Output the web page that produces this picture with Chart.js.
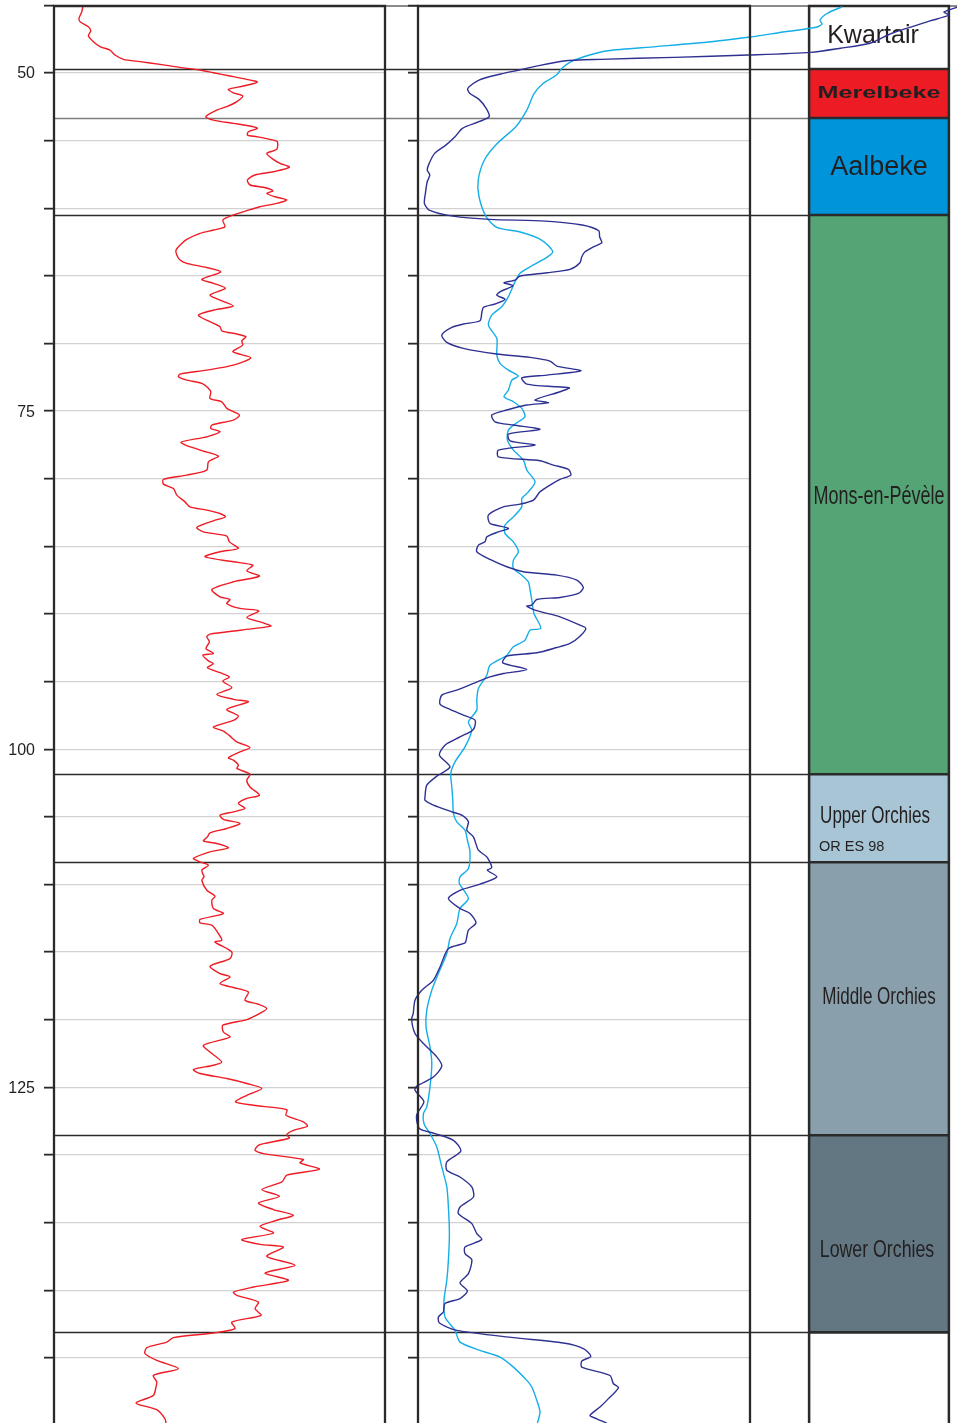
<!DOCTYPE html>
<html><head><meta charset="utf-8">
<script src="https://cdn.jsdelivr.net/npm/chart.js@4.4.1/dist/chart.umd.min.js"></script>
<style>
html,body{margin:0;padding:0;background:#fff;overflow:hidden;width:957px;height:1423px;}
#wrap{position:relative;width:957px;height:1430px;}
#wrap canvas{position:absolute;left:0;top:0;}
</style></head><body>
<div id="wrap">
<canvas id="strat" width="957" height="1430"></canvas>
<canvas id="gr" width="957" height="1430"></canvas>
<canvas id="logs" width="957" height="1430"></canvas>
</div>
<script>
// ---- depth axis ----
const depthMin = 45, depthMax = 150, depthStep = 5;
const depthLabels = [50, 75, 100, 125];

// ---- stratigraphy ----
const formationNames  = ['Kwartair','Merelbeke','Aalbeke','Mons-en-Pévèle','Upper Orchies','Middle Orchies','Lower Orchies',''];
const formationTops   = [45.00, 49.70, 53.33, 60.50, 101.85, 108.36, 128.55, 143.12];
const formationBases  = [49.70, 53.33, 60.50, 101.85, 108.36, 128.55, 143.12, 150.00];
const formationNotes  = ['', '', '', '', 'OR ES 98', '', '', ''];
const formationColors = ['#ffffff','#ed1c24','#0095da','#55a475','#a8c5d6','#89a0ac','#637783','#ffffff'];

// ---- log 1 (red, left track): [depth, value] ----
const logRed = [[45.10,14.4],[45.47,13.9],[45.95,12.5],[46.21,13.0],[46.58,17.2],[46.87,18.4],[47.26,17.2],[47.69,19.7],[48.05,23.0],[48.30,28.0],[48.67,30.5],[48.99,34.7],[49.16,43.0],[49.36,53.0],[49.58,63.0],[49.78,73.0],[49.98,79.7],[50.22,88.0],[50.47,96.4],[50.67,101.7],[50.96,94.7],[51.21,87.2],[51.46,89.7],[51.70,94.4],[52.12,91.4],[52.49,86.4],[52.74,81.4],[53.23,75.9],[53.48,79.7],[53.72,89.7],[53.92,98.0],[54.09,101.7],[54.34,97.2],[54.59,96.7],[54.71,101.4],[54.96,109.7],[55.08,111.7],[55.64,111.4],[55.94,106.4],[56.31,108.9],[56.68,113.0],[56.97,117.7],[57.30,109.7],[57.54,100.5],[57.91,96.7],[58.28,98.0],[58.45,104.7],[58.71,109.4],[58.90,106.4],[59.15,110.5],[59.39,116.4],[59.64,111.4],[59.89,103.0],[60.18,96.4],[60.50,89.7],[60.87,84.4],[61.37,85.5],[61.61,79.7],[61.86,73.0],[62.30,66.4],[62.60,63.9],[63.09,61.0],[63.46,61.4],[63.83,63.0],[64.07,66.4],[64.33,74.7],[64.70,83.4],[65.26,73.9],[65.55,79.7],[65.92,85.7],[66.42,78.0],[66.79,83.0],[67.23,89.7],[67.48,81.4],[67.90,72.2],[68.39,78.0],[68.76,83.0],[69.06,83.9],[69.30,91.4],[69.50,96.0],[69.80,93.9],[70.12,94.4],[70.61,89.4],[71.06,98.4],[71.60,89.7],[71.97,76.4],[72.26,63.0],[72.46,62.2],[72.71,66.4],[72.95,73.9],[73.20,76.4],[73.57,78.4],[74.06,78.0],[74.31,83.9],[74.80,86.4],[75.29,92.7],[75.66,89.7],[76.03,78.9],[76.28,78.4],[76.53,83.0],[76.90,76.4],[77.31,63.5],[77.88,73.0],[78.33,82.2],[78.75,77.2],[79.36,76.4],[79.73,66.4],[80.05,54.7],[80.40,54.7],[80.72,59.7],[81.21,61.4],[81.71,65.5],[82.08,68.0],[82.32,76.4],[82.57,83.0],[82.82,85.7],[83.11,79.7],[83.60,71.4],[83.93,74.7],[84.24,86.4],[84.67,87.7],[85.15,92.2],[85.40,83.0],[85.77,75.5],[86.14,89.7],[86.39,99.4],[86.81,96.4],[87.20,102.7],[87.62,89.7],[88.19,78.9],[88.73,83.0],[88.93,88.0],[89.22,86.4],[89.59,93.0],[89.77,102.4],[90.26,96.4],[90.66,104.7],[90.90,108.4],[91.20,93.0],[91.49,78.0],[91.69,76.4],[92.06,77.7],[92.55,76.0],[92.92,79.7],[93.05,74.4],[93.47,77.2],[93.67,79.7],[93.97,76.7],[94.34,83.0],[94.66,87.7],[94.96,84.4],[95.45,88.9],[95.94,81.4],[96.31,89.7],[96.49,97.2],[97.05,86.4],[97.55,92.2],[97.87,89.7],[98.36,79.7],[98.66,84.7],[99.03,88.0],[99.46,91.4],[99.87,98.0],[100.20,93.0],[100.64,87.2],[100.81,89.7],[101.18,92.2],[101.42,91.4],[101.85,98.0],[102.29,96.4],[102.79,98.0],[103.40,102.7],[103.64,96.4],[104.01,92.2],[104.38,95.5],[104.63,89.7],[104.88,83.0],[105.19,84.7],[105.49,93.0],[105.86,86.4],[106.19,78.0],[106.48,76.7],[106.78,74.7],[106.97,81.4],[107.30,87.2],[107.59,78.0],[108.08,69.7],[108.33,73.0],[108.58,77.2],[108.95,73.9],[109.44,75.0],[109.69,73.9],[110.43,76.4],[110.87,80.5],[111.17,78.9],[111.78,79.7],[112.15,84.7],[112.59,73.0],[112.84,73.0],[113.01,78.9],[113.63,82.2],[114.12,83.9],[114.25,80.5],[114.99,88.9],[115.48,88.0],[116.05,78.0],[116.59,83.0],[116.84,88.0],[117.33,83.0],[117.62,89.7],[117.95,97.2],[118.56,95.5],[118.86,102.2],[119.18,106.4],[119.55,102.7],[119.99,96.4],[120.41,84.4],[120.91,84.7],[121.28,88.0],[121.89,74.7],[122.39,78.0],[123.13,83.9],[123.37,79.7],[123.69,69.7],[123.98,73.0],[124.35,86.4],[124.72,96.4],[125.09,103.9],[125.59,96.4],[126.08,90.7],[126.33,99.7],[126.65,116.4],[127.07,116.0],[127.56,124.7],[127.88,126.7],[128.18,119.7],[128.50,116.4],[128.75,117.7],[129.12,106.4],[129.29,102.2],[129.65,100.5],[129.90,104.7],[130.34,124.7],[130.59,123.0],[131.06,132.7],[131.50,116.4],[132.00,113.9],[132.56,103.9],[133.06,112.7],[133.55,102.2],[134.04,109.7],[134.46,119.7],[134.83,111.4],[135.28,103.0],[135.77,109.7],[136.26,93.9],[136.61,103.0],[136.81,114.7],[137.50,106.4],[138.16,120.5],[138.73,105.5],[139.27,117.2],[139.77,99.7],[140.14,89.7],[140.38,91.4],[140.88,102.2],[141.37,100.5],[141.86,103.5],[142.36,88.9],[142.85,90.5],[143.17,79.7],[143.51,59.7],[143.84,56.4],[144.25,46.4],[144.69,45.5],[145.19,51.4],[145.80,62.2],[146.30,49.7],[146.79,51.4],[147.16,51.0],[147.78,49.7],[148.35,41.0],[148.84,51.4],[149.51,55.5],[149.83,56.0]];

// ---- log 2 (dark blue, middle track): [depth, value] ----
const logNavy = [[45.12,270],[45.49,263],[45.71,265.5],[46.15,256],[47.06,237],[47.80,226],[48.17,211.2],[48.47,196.4],[48.67,165],[48.84,128.2],[48.99,91.3],[49.11,72.9],[49.53,58.1],[49.78,50.7],[50.07,41.5],[50.52,30.5],[51.13,24.9],[51.50,25.8],[51.95,30.5],[52.61,34.1],[53.23,35.6],[53.60,30.5],[54.09,22.2],[54.71,18.5],[55.33,13.9],[55.94,8.3],[56.68,5.6],[57.17,4.6],[57.54,5.9],[58.04,4.6],[58.90,3.7],[59.64,3.2],[60.13,5.6],[60.58,17.5],[60.82,36.0],[60.95,63.7],[61.24,82.1],[61.66,90.4],[62.11,90.8],[62.55,91.9],[62.85,87.7],[63.22,83.5],[63.59,81.9],[64.03,81.0],[64.52,76.0],[64.77,64.4],[65.01,51.0],[65.31,48.5],[65.51,43.0],[65.73,47.4],[66.18,41.0],[66.42,39.4],[66.74,43.5],[67.08,38.5],[67.33,32.7],[67.73,31.9],[68.32,31.0],[68.56,22.7],[68.81,16.9],[69.38,11.9],[69.92,14.4],[70.36,22.7],[70.78,39.4],[71.03,56.0],[71.30,66.0],[71.67,69.4],[72.02,81.5],[72.34,64.4],[72.54,51.9],[73.00,54.4],[73.20,69.4],[73.28,75.7],[73.57,71.0],[74.18,58.5],[74.38,65.2],[74.55,54.4],[74.92,44.4],[75.29,36.9],[75.79,38.5],[76.03,47.7],[76.35,61.0],[76.70,45.2],[77.20,46.0],[77.51,58.5],[77.88,40.2],[78.38,40.2],[78.67,61.0],[78.99,67.7],[79.31,75.2],[79.73,76.4],[80.05,71.0],[80.47,66.0],[80.97,61.0],[81.58,57.7],[81.88,51.0],[82.08,42.7],[82.69,35.2],[83.30,36.0],[83.67,45.2],[83.93,40.2],[84.30,34.4],[84.66,33.5],[84.91,30.2],[85.40,29.4],[85.97,36.0],[86.51,44.4],[86.88,52.7],[87.13,69.4],[87.50,79.4],[88.04,82.7],[88.48,80.2],[88.78,71.0],[88.93,59.4],[89.35,56.9],[89.42,54.4],[89.72,58.5],[90.21,71.0],[90.83,81.0],[91.07,83.9],[91.64,81.0],[92.18,76.0],[92.48,69.4],[92.87,59.4],[93.12,44.4],[93.61,42.4],[94.10,54.4],[94.40,42.7],[94.65,36.0],[95.09,28.5],[95.63,19.4],[96.00,11.9],[96.67,11.0],[97.06,16.0],[97.48,22.7],[97.85,28.5],[98.54,27.7],[99.09,21.0],[99.70,13.5],[100.44,10.7],[101.31,16.0],[101.99,9.4],[102.66,4.4],[103.52,3.5],[103.77,3.5],[104.14,7.7],[104.63,16.9],[104.88,21.9],[105.37,25.2],[105.99,24.4],[106.48,27.7],[107.47,30.2],[107.96,34.4],[108.75,36.9],[108.95,34.7],[109.44,39.4],[109.98,31.0],[110.43,21.0],[111.04,15.2],[111.78,21.0],[112.15,26.0],[112.84,29.0],[113.38,25.2],[113.88,24.4],[114.32,23.5],[114.74,15.2],[116.10,11.0],[117.08,7.7],[117.82,1.9],[118.56,-1.5],[119.55,-2.4],[119.99,-3.2],[121.02,-1.5],[121.76,2.7],[122.75,9.4],[123.44,11.9],[124.24,7.7],[124.92,-0.7],[125.22,-1.5],[125.96,2.7],[126.20,2.7],[127.07,-0.7],[128.05,0.7],[128.42,8.5],[128.92,17.7],[129.71,21.4],[130.52,14.4],[131.13,14.4],[131.63,21.0],[132.37,26.9],[133.11,27.7],[133.85,21.0],[134.34,20.2],[135.08,26.9],[135.82,29.4],[136.26,31.9],[136.81,23.5],[137.30,23.5],[137.74,26.9],[138.78,25.2],[139.47,21.0],[140.06,24.7],[140.62,21.0],[140.99,13.5],[141.61,12.7],[141.98,10.2],[142.43,10.7],[142.97,19.4],[143.51,47.7],[143.91,72.7],[144.32,82.7],[144.89,86.4],[145.24,81.9],[145.69,81.9],[146.31,96.0],[146.92,97.7],[147.21,100.2],[148.15,94.4],[148.64,91.0],[149.26,86.0],[149.51,89.4],[149.83,94.4]];

// ---- log 3 (light blue, middle track): [depth, value] ----
const logCyan = [[45.10,212.1],[45.58,204.7],[46.08,201.0],[46.38,202.0],[46.62,199.2],[46.95,183.5],[47.36,165.1],[47.69,146.6],[48.05,119.0],[48.35,95.0],[48.67,85.8],[49.16,76.6],[49.65,72.0],[50.15,69.2],[50.76,62.7],[51.50,58.1],[52.74,54.4],[53.97,48.9],[55.20,39.7],[56.43,33.2],[57.91,30.1],[59.15,30.5],[60.63,34.1],[61.44,39.7],[61.74,50.7],[62.35,61.8],[63.22,67.4],[63.63,64.4],[64.33,56.0],[64.81,51.0],[65.44,48.5],[66.54,45.2],[67.28,41.9],[67.90,36.9],[68.64,35.2],[69.62,39.4],[70.86,39.4],[71.47,41.0],[71.97,45.2],[72.41,50.2],[72.71,46.9],[73.45,45.2],[73.94,43.0],[74.31,47.7],[74.80,51.9],[75.42,53.5],[75.86,49.4],[76.40,45.2],[77.14,44.7],[77.88,47.7],[78.62,52.7],[79.36,54.4],[80.23,58.5],[80.97,55.2],[81.46,51.9],[82.08,51.9],[82.82,47.7],[83.43,43.5],[84.04,43.5],[84.67,47.7],[85.40,50.2],[86.02,47.7],[86.63,47.7],[87.13,51.9],[87.62,55.2],[88.19,56.0],[88.98,56.9],[89.96,58.0],[91.07,61.4],[91.20,56.0],[91.94,53.5],[92.43,47.7],[93.05,44.4],[93.79,36.0],[94.53,34.4],[95.51,30.2],[96.37,29.4],[97.11,29.4],[97.98,25.2],[98.59,26.9],[99.83,23.5],[100.94,18.5],[101.79,16.4],[102.78,16.9],[103.77,17.4],[104.75,17.7],[105.37,19.4],[105.99,23.5],[106.73,24.7],[107.59,26.0],[108.82,25.2],[109.44,21.0],[109.93,20.7],[111.04,25.2],[111.78,21.0],[112.89,19.4],[114.00,16.0],[115.11,14.4],[116.59,10.2],[117.82,6.9],[119.30,4.4],[120.53,4.0],[122.01,6.0],[123.24,6.9],[124.97,6.0],[126.45,4.4],[126.95,2.7],[127.69,3.0],[128.43,6.0],[129.41,9.4],[130.89,11.9],[132.37,14.4],[133.85,15.2],[135.82,15.7],[137.79,15.2],[139.27,14.4],[140.75,13.0],[141.98,13.5],[142.97,18.5],[143.84,21.0],[144.45,31.0],[144.95,41.0],[145.69,47.7],[146.67,54.4],[147.16,56.9],[148.15,59.4],[149.01,61.0],[149.83,59.7]];

// ---- track value ranges ----
const redRange = [0, 165.5];
const midRange = [0, 166];

const toXY = arr => arr.map(p => ({x: p[1], y: p[0]}));
const FONT = '"Liberation Sans", Arial, Helvetica, sans-serif';
const INK = '#231f20';

function depthScale(extra) {
  return Object.assign({
    type: 'linear', min: depthMin, max: depthMax, reverse: true, position: 'left',
    ticks: {display: false, stepSize: depthStep},
    grid: {color: '#d2d2d2', lineWidth: 1.3, drawTicks: true, tickLength: 10, tickColor: '#2a2a2a', tickWidth: 1.8},
    border: {display: false}
  }, extra || {});
}
const framePlugin = {
  id: 'frame',
  afterDatasetsDraw(chart) {
    const {ctx, chartArea: a} = chart;
    ctx.save();
    ctx.strokeStyle = '#2a2a2a'; ctx.lineWidth = 2.3;
    ctx.beginPath();
    ctx.moveTo(a.left, a.bottom + 5); ctx.lineTo(a.left, a.top + 0.6);
    ctx.lineTo(a.right, a.top + 0.6); ctx.lineTo(a.right, a.bottom + 5);
    ctx.stroke();
    ctx.restore();
  }
};
const depthLabelPlugin = {
  id: 'depthLabels',
  afterDraw(chart) {
    const {ctx, chartArea: a} = chart;
    const ys = chart.scales.y;
    ctx.save();
    ctx.font = '16px ' + FONT; ctx.fillStyle = INK;
    ctx.textAlign = 'right'; ctx.textBaseline = 'middle';
    depthLabels.forEach(v => ctx.fillText(String(v), a.left - 19, ys.getPixelForValue(v) + 1));
    ctx.restore();
  }
};
const common = {
  animation: false, responsive: false, events: [],
  plugins: {legend: {display: false}, tooltip: {enabled: false}}
};

// ---- stratigraphic column (bottom layer) ----
const labelStyle = {
  'Kwartair':       {font: '25px ' + FONT, sx: 1, dx: -6, dy: -1},
  'Merelbeke':      {font: 'bold 16px ' + FONT, sx: 1.57, dx: 0, dy: 0},
  'Aalbeke':        {font: '27px ' + FONT, sx: 1, dx: 0, dy: 1},
  'Mons-en-Pévèle': {font: '25px ' + FONT, sx: 0.72, dx: 0, dy: 2},
  'Upper Orchies':  {font: '24px ' + FONT, sx: 0.71, dx: -4, dy: -2},
  'Middle Orchies': {font: '24px ' + FONT, sx: 0.71, dx: 0, dy: -1},
  'Lower Orchies':  {font: '24px ' + FONT, sx: 0.74, dx: -2, dy: 17}
};
const stratPlugin = {
  id: 'strat',
  beforeDatasetsDraw(chart) {
    const {ctx, chartArea: a} = chart;
    const ys = chart.scales.y;
    ctx.save();
    // top line of the log sheet
    ctx.strokeStyle = '#8a8a8a'; ctx.lineWidth = 2;
    const yt = ys.getPixelForValue(depthMin) + 0.6;
    ctx.beginPath(); ctx.moveTo(54, yt); ctx.lineTo(chart.width, yt); ctx.stroke();
    // formation boundaries across the tracks
    formationTops.forEach((d, i) => {
      if (i === 0) return;
      const y = Math.round(ys.getPixelForValue(d)) + 0.5;
      ctx.strokeStyle = formationNames[i] === 'Aalbeke' ? '#7d7d7d' : '#2b2b2b';
      ctx.lineWidth = formationNames[i] === 'Aalbeke' ? 1.3 : 1.5;
      ctx.beginPath(); ctx.moveTo(54, y); ctx.lineTo(a.left, y); ctx.stroke();
    });
    ctx.restore();
  },
  afterDatasetsDraw(chart) {
    const {ctx} = chart;
    ctx.save();
    ctx.fillStyle = INK; ctx.textAlign = 'center'; ctx.textBaseline = 'middle';
    chart.data.datasets.forEach((ds, i) => {
      const el = chart.getDatasetMeta(i).data[0];
      if (!el) return;
      const name = formationNames[i];
      const st = labelStyle[name];
      const top = Math.min(el.y, el.base), bot = Math.max(el.y, el.base);
      const left = el.x - el.width / 2;
      if (st) {
        ctx.save();
        ctx.font = st.font;
        ctx.translate(el.x + st.dx, (top + bot) / 2 + st.dy);
        ctx.scale(st.sx, 1);
        ctx.fillText(name, 0, 0);
        ctx.restore();
      }
      if (formationNotes[i]) {
        ctx.save();
        ctx.font = '14.5px ' + FONT; ctx.textAlign = 'left';
        ctx.fillText(formationNotes[i], left + 10, bot - 15);
        ctx.restore();
      }
    });
    ctx.restore();
  }
};
new Chart(document.getElementById('strat'), {
  type: 'bar',
  data: {
    labels: ['Formatie'],
    datasets: formationNames.map((n, i) => ({
      label: n || 'onder',
      data: [[formationTops[i], formationBases[i]]],
      backgroundColor: formationColors[i],
      borderColor: '#2b2b2b', borderWidth: 1.6, borderSkipped: false,
      grouped: false, barPercentage: 1, categoryPercentage: 1
    }))
  },
  options: Object.assign({}, common, {
    layout: {padding: {left: 809, right: 8, top: 5.4, bottom: 4.6}},
    scales: {
      x: {display: false},
      y: {display: false, min: depthMin, max: depthMax, reverse: true}
    }
  }),
  plugins: [stratPlugin, framePlugin]
});

// ---- left track: red log ----
new Chart(document.getElementById('gr'), {
  type: 'scatter',
  data: {datasets: [{
    label: 'log 1', data: toXY(logRed), showLine: true,
    borderColor: '#ee1c25', borderWidth: 1.4, pointRadius: 0, tension: 0.25, clip: false
  }]},
  options: Object.assign({}, common, {
    layout: {padding: {left: 0, right: 572, top: 5.4, bottom: 4.6}},
    scales: {
      x: {type: 'linear', display: false, min: redRange[0], max: redRange[1]},
      y: depthScale({afterFit: s => { s.width = 54; }})
    }
  }),
  plugins: [framePlugin, depthLabelPlugin]
});

// ---- middle track: two blue logs ----
new Chart(document.getElementById('logs'), {
  type: 'scatter',
  data: {datasets: [
    {label: 'log 2', data: toXY(logNavy), showLine: true,
     borderColor: '#2e3192', borderWidth: 1.4, pointRadius: 0, tension: 0.25, clip: false},
    {label: 'log 3', data: toXY(logCyan), showLine: true,
     borderColor: '#14aee8', borderWidth: 1.4, pointRadius: 0, tension: 0.25, clip: false}
  ]},
  options: Object.assign({}, common, {
    layout: {padding: {left: 0, right: 207, top: 5.4, bottom: 4.6}},
    scales: {
      x: {type: 'linear', display: false, min: midRange[0], max: midRange[1]},
      y: depthScale({afterFit: s => { s.width = 418; }})
    }
  }),
  plugins: [framePlugin]
});
</script>
</body></html>
